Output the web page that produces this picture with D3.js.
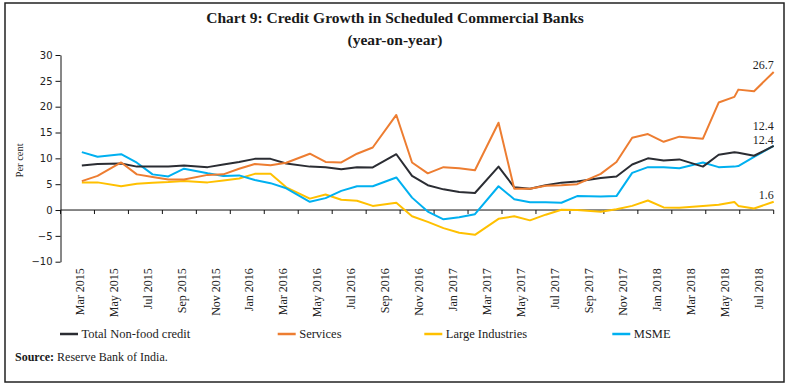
<!DOCTYPE html>
<html><head><meta charset="utf-8">
<script src="https://cdn.jsdelivr.net/npm/d3@7"></script>
<style>body{margin:0;background:#fff} svg{display:block}</style>
</head><body>
<svg id="chart" width="790" height="384"></svg>
<script>
// ---- data (last reporting Friday of each month) ----
const dates = [
  "2015-03-20","2015-04-17","2015-05-29","2015-06-26","2015-07-24","2015-08-21","2015-09-18","2015-10-30","2015-11-27","2015-12-25",
  "2016-01-22","2016-02-19","2016-03-18","2016-04-29","2016-05-27","2016-06-24","2016-07-22","2016-08-19","2016-09-30","2016-10-28","2016-11-25","2016-12-23",
  "2017-01-20","2017-02-17","2017-03-31","2017-04-28","2017-05-26","2017-06-23","2017-07-21","2017-08-18","2017-09-29","2017-10-27","2017-11-24","2017-12-22",
  "2018-01-19","2018-02-16","2018-03-30","2018-04-27","2018-05-25","2018-06-01","2018-06-29","2018-08-03"
];
const totalNonFood = [
  8.6, 8.9, 9.0, 8.4, 8.4, 8.4, 8.6, 8.3, 8.8, 9.3,
  9.9, 9.9, 9.0, 8.4, 8.3, 7.9, 8.3, 8.25, 10.8, 6.6, 4.8, 4.0,
  3.5, 3.3, 8.4, 4.4, 4.1, 4.8, 5.3, 5.5, 6.2, 6.5, 8.8, 10.0,
  9.6, 9.8, 8.4, 10.7, 11.2, 11.1, 10.5, 12.4
];
const services = [
  5.6, 6.6, 9.2, 6.9, 6.4, 5.9, 5.9, 6.8, 6.9, 8.0,
  8.9, 8.65, 9.15, 10.9, 9.3, 9.2, 10.9, 12.1, 18.4, 9.2, 7.1, 8.3,
  8.1, 7.7, 16.9, 4.1, 4.1, 4.7, 4.8, 5.0, 7.0, 9.3, 14.0, 14.7,
  13.2, 14.2, 13.8, 20.8, 21.9, 23.3, 23.0, 26.7
];
const largeIndustries = [
  5.35, 5.35, 4.6, 5.1, 5.3, 5.4, 5.6, 5.35, 5.7, 6.1,
  7.0, 7.0, 4.4, 2.2, 3.0, 2.0, 1.8, 0.8, 1.4, -1.2, -2.3, -3.5,
  -4.4, -4.8, -1.7, -1.2, -2.0, -0.9, 0.05, 0.0, -0.35, 0.15, 0.8, 1.85,
  0.5, 0.45, 0.8, 1.0, 1.55, 0.8, 0.3, 1.6
];
const msme = [
  11.2, 10.3, 10.8, 9.15, 6.9, 6.5, 8.0, 7.1, 6.6, 6.7,
  5.8, 5.2, 4.2, 1.6, 2.3, 3.7, 4.6, 4.6, 6.3, 2.4, -0.3, -1.8,
  -1.4, -0.8, 4.6, 2.1, 1.5, 1.5, 1.4, 2.7, 2.6, 2.7, 7.2, 8.3,
  8.3, 8.1, 9.2, 8.3, 8.4, 8.5, 10.3, 12.4
];
const seriesNames = ["Total Non-food credit", "Services", "Large Industries", "MSME"];
const yTicks = [-10, -5, 0, 5, 10, 15, 20, 25, 30];
const xTickLabels = ["Mar 2015","May 2015","Jul 2015","Sep 2015","Nov 2015","Jan 2016","Mar 2016","May 2016","Jul 2016","Sep 2016",
  "Nov 2016","Jan 2017","Mar 2017","May 2017","Jul 2017","Sep 2017","Nov 2017","Jan 2018","Mar 2018","May 2018","Jul 2018"];
const endLabels = ["12.4", "26.7", "1.6", "12.4"];

// ---- layout ----
const svg = d3.select("#chart");
const parse = d3.utcParse("%Y-%m-%d");
const colors = ["#2b2d33", "#ED7D31", "#FFC000", "#00B0F0"];
const serif = "'Liberation Serif','Times New Roman',serif";

svg.append("rect").attr("x", 5).attr("y", 3).attr("width", 779).attr("height", 379)
  .attr("fill", "none").attr("stroke", "#222").attr("stroke-width", 1.5);

const x = d3.scaleUtc().domain([parse("2015-02-10"), parse("2018-08-03")]).range([60.5, 773.7]);
const y = d3.scaleLinear().domain([-10, 30]).range([261.7, 55]);

// titles
svg.append("text").attr("x", 395).attr("y", 23).attr("text-anchor", "middle")
  .style("font-family", serif).style("font-weight", "bold").style("font-size", "15.5px").attr("fill", "#1a1a1a")
  .text("Chart 9: Credit Growth in Scheduled Commercial Banks");
svg.append("text").attr("x", 395).attr("y", 45).attr("text-anchor", "middle")
  .style("font-family", serif).style("font-weight", "bold").style("font-size", "15.5px").attr("fill", "#1a1a1a")
  .text("(year-on-year)");

// y axis
const yAxis = svg.append("g").attr("transform", `translate(${x.range()[0]},0)`)
  .call(d3.axisLeft(y).tickValues(yTicks).tickSize(5).tickSizeOuter(0).tickPadding(3).tickFormat(d3.format("d")));
yAxis.select(".domain").attr("stroke", "#111");
yAxis.selectAll(".tick line").attr("stroke", "#111");
yAxis.selectAll("text").style("font-family", "'DejaVu Sans',Verdana,sans-serif").style("font-size", "10px").attr("fill", "#222");

svg.append("text").attr("transform", `translate(23,${(y.range()[0] + y.range()[1]) / 2 + 2}) rotate(-90)`)
  .attr("text-anchor", "middle").style("font-family", serif).style("font-size", "10.5px").attr("fill", "#222")
  .text("Per cent");

// x axis at zero
const [r0, r1] = x.range();
const nInt = xTickLabels.length;
const tickPos = d3.range(nInt + 1).map(i => r0 + i * (r1 - r0) / nInt);
svg.append("line").attr("x1", r0).attr("x2", r1).attr("y1", y(0)).attr("y2", y(0)).attr("stroke", "#111").attr("stroke-width", 1);
svg.selectAll(".xtick").data(tickPos).join("line").attr("class", "xtick")
  .attr("x1", d => d).attr("x2", d => d).attr("y1", y(0)).attr("y2", y(0) + 4).attr("stroke", "#111");
svg.selectAll(".xlab").data(xTickLabels).join("text").attr("class", "xlab")
  .attr("transform", (d, i) => `translate(${(tickPos[i] + tickPos[i + 1]) / 2 + 2},${y.range()[0] + 6.5}) rotate(-90)`)
  .attr("text-anchor", "end").attr("dy", "0.35em")
  .style("font-family", serif).style("font-size", "12px").attr("fill", "#222")
  .text(d => d);

// lines
const series = [totalNonFood, services, largeIndustries, msme];
const line = d3.line().x(d => x(d.date)).y(d => y(d.value));
const drawOrder = [2, 3, 0, 1];
drawOrder.forEach(si => {
  const data = dates.map((d, i) => ({ date: parse(d), value: series[si][i] }));
  svg.append("path").datum(data).attr("d", line).attr("fill", "none")
    .attr("stroke", colors[si]).attr("stroke-width", 2).attr("stroke-linejoin", "round");
});

// end labels
const endOffsets = [-20.5, -7, -7, -6.5];
series.forEach((s, si) => {
  const last = s.length - 1;
  svg.append("text").attr("x", x(parse(dates[last]))).attr("y", y(s[last]) + endOffsets[si]).attr("dy", "0.35em")
    .attr("text-anchor", "end").style("font-family", serif).style("font-size", "12px").attr("fill", "#222")
    .text(endLabels[si]);
});

// legend
const legX = [60, 277.7, 424.3, 612.3];
const legY = 334;
seriesNames.forEach((n, i) => {
  svg.append("line").attr("x1", legX[i]).attr("x2", legX[i] + 18).attr("y1", legY).attr("y2", legY)
    .attr("stroke", colors[i]).attr("stroke-width", 2.5);
  svg.append("text").attr("x", legX[i] + 21.5).attr("y", legY).attr("dy", "0.35em")
    .style("font-family", serif).style("font-size", "12.5px").attr("fill", "#222").text(n);
});

// source
const src = svg.append("text").attr("x", 15).attr("y", 361).style("font-family", serif).style("font-size", "12px").attr("fill", "#1a1a1a");
src.append("tspan").style("font-weight", "bold").text("Source:");
src.append("tspan").text(" Reserve Bank of India.");
</script>
</body></html>
